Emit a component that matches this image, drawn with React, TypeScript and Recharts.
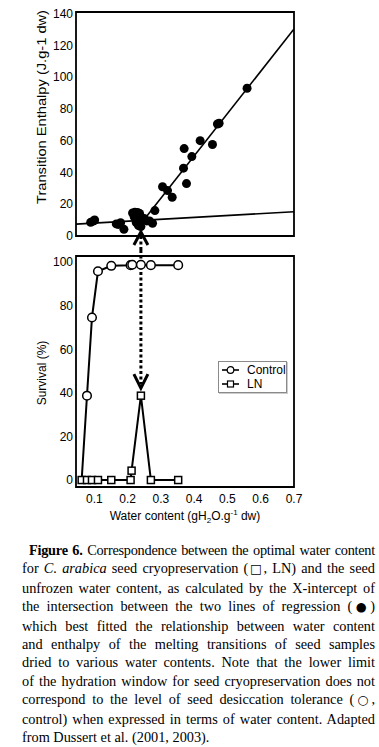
import React from "react";
import {
  ComposedChart,
  Legend,
  Line,
  ReferenceArea,
  ReferenceLine,
  Scatter,
  XAxis,
  YAxis,
} from "recharts";

const FONT = "'Liberation Sans', Arial, sans-serif";
const SERIF = "'Liberation Serif', 'Times New Roman', serif";
const SYMBOL = "'DejaVu Sans', sans-serif";

// shared water-content axis
const X_MIN = 0.045;
const X_MAX = 0.7;
const waterTicks = [0.1, 0.2, 0.3, 0.4, 0.5, 0.6, 0.7];
const enthalpyTicks = [0, 20, 40, 60, 80, 100, 120, 140];
const survivalTicks = [0, 20, 40, 60, 80, 100];

// melting transition enthalpy vs water content (filled dots)
const meltWater = [
  0.089, 0.097, 0.101, 0.166, 0.172, 0.179, 0.189, 0.215, 0.222, 0.23, 0.236,
  0.22, 0.228, 0.238, 0.245, 0.226, 0.233, 0.24, 0.237, 0.25, 0.258, 0.266,
  0.275, 0.282, 0.305, 0.32, 0.334, 0.368, 0.37, 0.377, 0.393, 0.418, 0.455,
  0.47, 0.475, 0.559,
];
const meltEnthalpy = [
  8.6, 9.4, 10.1, 7.6, 7.3, 8.4, 4.2, 14.5, 15, 14.8, 14.2, 12, 11, 12.5, 10.5,
  8.5, 6.5, 6, 9, 11, 9.5, 9.5, 8, 16, 31, 28.6, 24.4, 42.7, 55, 33, 50, 60,
  57.6, 70.5, 71, 93,
];

// the two regression lines
const lowFitWater = [X_MIN, X_MAX];
const lowFitEnthalpy = [7.5, 15.3];
const highFitWater = [0.248, X_MAX];
const highFitEnthalpy = [9.9, 130.3];

// x-intercept of the two regressions
const intersectWater = 0.24;

// survival (%)
const controlWater = [0.062, 0.078, 0.093, 0.111, 0.151, 0.209, 0.214, 0.24, 0.27, 0.352];
const controlSurvival = [0, 38.7, 74.6, 95.8, 98.3, 98.6, 98.8, 98.8, 98.6, 98.6];
const lnWater = [0.062, 0.078, 0.093, 0.111, 0.151, 0.209, 0.212, 0.24, 0.27, 0.352];
const lnSurvival = [0, 0, 0, 0, 0, 0, 4.3, 38.7, 0, 0];

const zip = (xs: number[], ys: number[]) => xs.map((x, i) => ({ x, y: ys[i] }));

const meltData = zip(meltWater, meltEnthalpy);
const lowFit = zip(lowFitWater, lowFitEnthalpy);
const highFit = zip(highFitWater, highFitEnthalpy);
const controlData = zip(controlWater, controlSurvival);
const lnData = zip(lnWater, lnSurvival);

const tickStyle = { fontSize: 12, fill: "#000", fontFamily: FONT };

function UpArrow(props: any) {
  const { x1, y1, y2 } = props;
  return (
    <g>
      <line x1={x1} x2={x1} y1={y1 + 4} y2={y2} stroke="#000" strokeWidth={3} strokeDasharray="3 2.5" />
      <polyline
        points={`${x1 - 7},${y1 + 13} ${x1},${y1} ${x1 + 7},${y1 + 13}`}
        fill="none"
        stroke="#000"
        strokeWidth={3}
      />
    </g>
  );
}

function DownArrow(props: any) {
  const { x1, y1, y2 } = props;
  return (
    <g>
      <line x1={x1} x2={x1} y1={y1} y2={y2 - 4} stroke="#000" strokeWidth={3} strokeDasharray="3 2.5" />
      <polyline
        points={`${x1 - 7},${y2 - 14} ${x1},${y2} ${x1 + 7},${y2 - 14}`}
        fill="none"
        stroke="#000"
        strokeWidth={3}
      />
    </g>
  );
}

function CircleDot(props: any) {
  const { cx, cy, index, key } = props;
  if (index === 0) return <g key={key} />;
  return <circle key={key} cx={cx} cy={cy} r={4.3} fill="#fff" stroke="#000" strokeWidth={1.5} />;
}

function SquareDot(props: any) {
  const { cx, cy, key } = props;
  return <rect key={key} x={cx - 3.5} y={cy - 3.5} width={7} height={7} fill="#fff" stroke="#000" strokeWidth={1.5} />;
}

function LegendIcon({ square }: { square: boolean }) {
  return (
    <svg width={17} height={10} style={{ display: "block" }}>
      <line x1={0} x2={17} y1={5} y2={5} stroke="#000" strokeWidth={1.6} />
      {square ? (
        <rect x={5.5} y={2} width={6} height={6} fill="#fff" stroke="#000" strokeWidth={1.2} />
      ) : (
        <circle cx={8.5} cy={5} r={3.3} fill="#fff" stroke="#000" strokeWidth={1.2} />
      )}
    </svg>
  );
}

function SurvivalLegend({ payload }: any) {
  return (
    <div
      style={{
        border: "1px solid #8a8a8a",
        background: "#fff",
        padding: "1px 0 1px 3px",
        fontFamily: FONT,
        fontSize: 12,
        lineHeight: "14px",
        boxShadow: "1px 1px 0 #ccc",
      }}
    >
      {(payload || []).map((entry: any) => (
        <div key={entry.value} style={{ display: "flex", alignItems: "center", height: 14 }}>
          <LegendIcon square={entry.value === "LN"} />
          <span style={{ marginLeft: 8 }}>{entry.value}</span>
        </div>
      ))}
    </div>
  );
}

function YTitle({ text, cy, length }: { text: string; cy: number; length?: number }) {
  return (
    <text
      x={46}
      y={cy}
      transform={`rotate(-90 46 ${cy})`}
      textAnchor="middle"
      fontSize={12}
      fontFamily={FONT}
      fill="#000"
      textLength={length}
      lengthAdjust={length ? "spacingAndGlyphs" : undefined}
    >
      {text}
    </text>
  );
}

function WaterTitle(props: any) {
  const vb = props.viewBox || {};
  const cx = vb.x + vb.width / 2;
  const y = vb.y + 33;
  return (
    <text x={cx} y={y} textAnchor="middle" fontSize={12} fontFamily={FONT} fill="#000">
      <tspan>Water content (gH</tspan>
      <tspan fontSize={8} dy={3}>2</tspan>
      <tspan dy={-3}>O.g</tspan>
      <tspan fontSize={8} dy={-5}>-1</tspan>
      <tspan dy={5}> dw)</tspan>
    </text>
  );
}

const lineStyle = { display: "block", textAlign: "justify" as const, textAlignLast: "justify" as const, whiteSpace: "nowrap" as const };
const sym = { fontFamily: SYMBOL, fontSize: 12.5 };

export default function App() {
  return (
    <div style={{ position: "absolute", left: 0, top: 0, width: 379, height: 747, background: "#fff", overflow: "hidden" }}>
      <div style={{ position: "absolute", left: 0, top: 0 }}>
        <ComposedChart width={379} height={250} margin={{ top: 12, right: 85, bottom: 14, left: 0 }}>
          <XAxis type="number" dataKey="x" domain={[X_MIN, X_MAX]} allowDataOverflow hide />
          <YAxis
            type="number"
            domain={[0, 141]}
            ticks={enthalpyTicks}
            allowDataOverflow
            width={76}
            tickSize={0}
            tickMargin={3}
            axisLine={false}
            tick={tickStyle}
            label={{ content: () => <YTitle text="Transition Enthalpy (J.g-1 dw)" cy={107} length={194} /> }}
          />
          <ReferenceArea x1={X_MIN} x2={X_MAX} y1={0} y2={141} fill="none" stroke="#000" strokeWidth={1.8} ifOverflow="visible" />
          <Line data={lowFit} dataKey="y" stroke="#000" strokeWidth={1.6} dot={false} isAnimationActive={false} />
          <Line data={highFit} dataKey="y" stroke="#000" strokeWidth={1.6} dot={false} isAnimationActive={false} />
          <Scatter
            data={meltData}
            dataKey="y"
            fill="#000"
            isAnimationActive={false}
            shape={(p: any) => <circle cx={p.cx} cy={p.cy} r={4.5} fill="#000" />}
          />
          <ReferenceLine
            segment={[{ x: intersectWater, y: 2.5 }, { x: intersectWater, y: -9 }]}
            ifOverflow="visible"
            shape={UpArrow}
          />
        </ComposedChart>
      </div>

      <div style={{ position: "absolute", left: 0, top: 250 }}>
        <ComposedChart width={379} height={277} margin={{ top: 6, right: 85, bottom: 0, left: 0 }}>
          <XAxis
            type="number"
            dataKey="x"
            domain={[X_MIN, X_MAX]}
            ticks={waterTicks}
            allowDataOverflow
            height={40}
            tickSize={0}
            tickMargin={7}
            axisLine={false}
            tick={tickStyle}
            label={{ content: WaterTitle }}
          />
          <YAxis
            type="number"
            domain={[-3.2, 102.8]}
            ticks={survivalTicks}
            allowDataOverflow
            width={76}
            tickSize={0}
            tickMargin={3}
            axisLine={false}
            tick={tickStyle}
            label={{ content: () => <YTitle text="Survival (%)" cy={123} /> }}
          />
          <ReferenceArea x1={X_MIN} x2={X_MAX} y1={-3.2} y2={102.8} fill="none" stroke="#000" strokeWidth={1.8} ifOverflow="visible" />
          <ReferenceLine
            segment={[{ x: intersectWater, y: 105.5 }, { x: intersectWater, y: 42.2 }]}
            ifOverflow="visible"
            shape={DownArrow}
          />
          <Line
            name="Control"
            data={controlData}
            dataKey="y"
            stroke="#000"
            strokeWidth={2}
            dot={CircleDot}
            isAnimationActive={false}
          />
          <Line
            name="LN"
            data={lnData}
            dataKey="y"
            stroke="#000"
            strokeWidth={2}
            dot={SquareDot}
            isAnimationActive={false}
          />
          <Legend
            layout="vertical"
            align="center"
            verticalAlign="middle"
            content={SurvivalLegend}
            wrapperStyle={{ position: "absolute", left: 218, top: 111, width: 69 }}
          />
        </ComposedChart>
      </div>

      <div
        style={{
          position: "absolute",
          left: 22,
          top: 541,
          width: 353,
          fontFamily: SERIF,
          fontSize: 14.3,
          lineHeight: "18.4px",
          color: "#000",
        }}
      >
        <span style={{ ...lineStyle, paddingLeft: 7, letterSpacing: -0.25 }}>
          <b>Figure 6.</b> Correspondence between the optimal water content
        </span>
        <span style={lineStyle}>
          for <i>C. arabica</i> seed cryopreservation (<span style={sym}>□</span>, LN) and the seed
        </span>
        <span style={lineStyle}>unfrozen water content, as calculated by the X-intercept of</span>
        <span style={lineStyle}>
          the intersection between the two lines of regression (<span style={sym}>●</span>)
        </span>
        <span style={lineStyle}>which best fitted the relationship between water content</span>
        <span style={lineStyle}>and enthalpy of the melting transitions of seed samples</span>
        <span style={lineStyle}>dried to various water contents. Note that the lower limit</span>
        <span style={lineStyle}>of the hydration window for seed cryopreservation does not</span>
        <span style={lineStyle}>
          correspond to the level of seed desiccation tolerance (<span style={sym}>○</span>,
        </span>
        <span style={lineStyle}>control) when expressed in terms of water content. Adapted</span>
        <span style={{ display: "block" }}>from Dussert et al. (2001, 2003).</span>
      </div>
    </div>
  );
}
